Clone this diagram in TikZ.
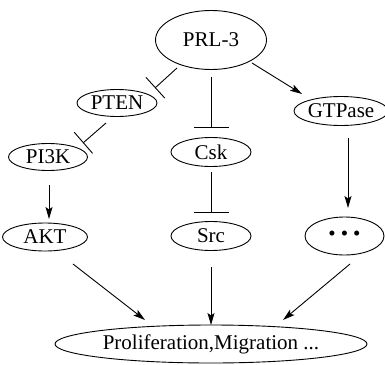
\documentclass[tikz,border=0pt]{standalone}
\usepackage{fontspec}
\setmainfont{Liberation Serif}
\usetikzlibrary{shapes.geometric,arrows.meta}
\begin{document}
\begin{tikzpicture}[x=1pt,y=-1pt,
  ell/.style={draw,ellipse,inner sep=0pt,line width=0.9pt,font=\fontsize{21}{25}\selectfont},
  con/.style={line width=0.9pt},
  act/.style={con,-{Stealth[length=12pt,width=7pt,inset=2.5pt]}},
  inhd/.style={con,-{Bar[width=28pt,line width=0.9pt]}},
  inhv/.style={con,-{Bar[width=35pt,line width=0.9pt]}}]
\useasboundingbox (0,0) rectangle (385,364);
\node[ell,minimum width=111pt,minimum height=59pt] (prl) at (211,40) {PRL-3};
\node[ell,minimum width=80pt,minimum height=27pt] (pten) at (117,103) {PTEN};
\node[ell,minimum width=82pt,minimum height=29pt] (gtp) at (341,111) {GTPase};
\node[ell,minimum width=79pt,minimum height=27pt] (pi3k) at (48,157) {PI3K};
\node[ell,minimum width=80pt,minimum height=29pt] (csk) at (211,152) {Csk};
\node[ell,minimum width=85pt,minimum height=28pt] (akt) at (45,237) {AKT};
\node[ell,minimum width=80pt,minimum height=29pt] (src) at (211,236) {Src};
\node[ell,minimum width=79pt,minimum height=38pt] (dots) at (344.5,236) {\textbullet\hspace{5pt}\textbullet\hspace{5pt}\textbullet};
\node[ell,minimum width=312pt,minimum height=38pt] (prol) at (211,344) {Proliferation,Migration ...};
\draw[inhd] ([shift={(-34,28)}]prl.center) -- ([shift={(38,-15)}]pten.center);
\draw[inhd] ([shift={(-11,20)}]pten.center) -- ([shift={(35,-14)}]pi3k.center);
\draw[inhv] ([shift={(0,37)}]prl.center) -- ([shift={(0,-24)}]csk.center);
\draw[inhv] ([shift={(0,20)}]csk.center) -- ([shift={(0,-23)}]src.center);
\draw[act] ([shift={(41,23)}]prl.center) -- ([shift={(-39,-17)}]gtp.center);
\draw[act] ([shift={(7,27)}]gtp.center) -- ([shift={(3.5,-28)}]dots.center);
\draw[act] ([shift={(1,28)}]pi3k.center) -- ([shift={(4,-18)}]akt.center);
\draw[act] ([shift={(28,27)}]akt.center) -- ([shift={(-66,-24)}]prol.center);
\draw[act] ([shift={(0,31)}]src.center) -- ([shift={(0,-19)}]prol.center);
\draw[act] ([shift={(5.5,28)}]dots.center) -- ([shift={(72,-24)}]prol.center);
\end{tikzpicture}
\end{document}
